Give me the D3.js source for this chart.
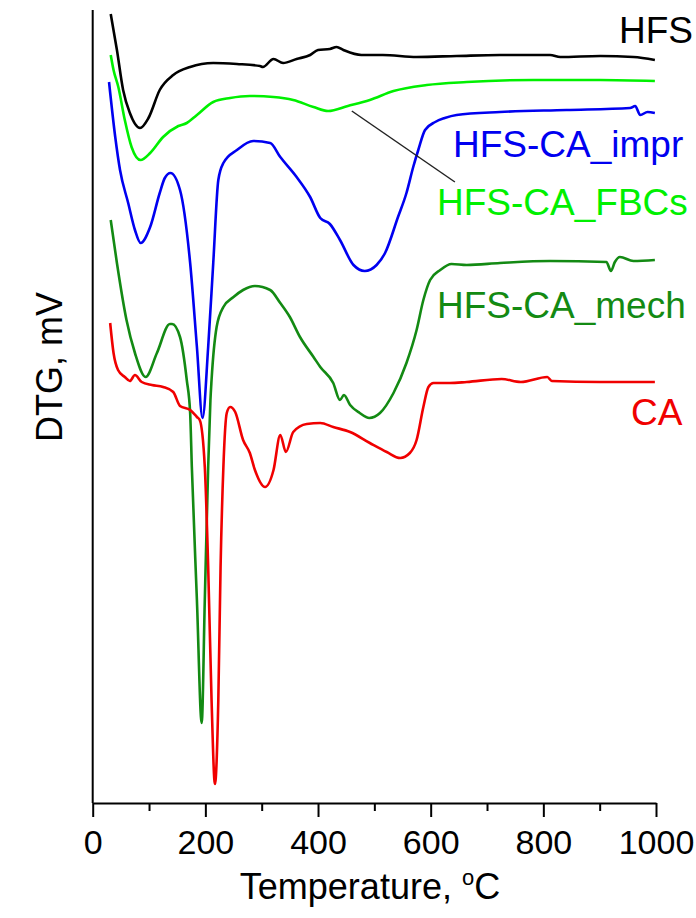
<!DOCTYPE html>
<html lang="en">
<head>
<meta charset="UTF-8">
<title>DTG curves</title>
<script src="https://d3js.org/d3.v7.min.js"></script>
<style>
    body { margin: 0; background: #fff; }
    svg { display: block; font-family: "Liberation Sans", Arial, sans-serif; }
    .axis path, .axis line { stroke: #000; stroke-width: 2; }
    .axis text { font-size: 34px; fill: #000; }
    .curve { fill: none; stroke-width: 2.6; stroke-linejoin: round; }
    .lbl { font-size: 37px; }
</style>
</head>
<body>
<svg id="chart"></svg>
<script>
    // temperature (C) and DTG (arbitrary units)
    const hfsT = [32, 43, 54, 66, 84, 99, 119, 143, 173, 214, 256, 297, 302, 321, 338, 362, 386, 400, 421, 433, 445, 477, 515, 575, 646, 723, 812, 830, 901, 960, 998];
    const hfsV = [789, 753, 713, 690, 675, 685, 713, 728, 736, 740, 739, 737, 736, 744, 740, 744, 748, 753, 754, 756, 753, 748, 748, 746, 747, 748, 748, 746, 747, 746, 743];

    const fbcT = [32, 37, 45.5, 57, 69, 85, 102, 125, 152, 167, 185, 214, 244, 279, 321, 356, 392, 418, 453, 492, 534, 593, 664, 782, 901, 998];
    const fbcV = [748, 733, 716, 683, 656, 643, 650, 666, 677, 680, 688, 701, 705, 707, 706, 703, 696, 692, 697, 703, 712, 718, 721, 723, 723, 722];

    const imprT = [29, 40, 48.5, 63, 75, 85, 102, 119, 128, 138, 155, 173, 185, 195, 205, 214, 223, 232, 256, 285, 315, 333, 362, 386, 404, 421, 439, 463, 483, 504, 519, 542, 557, 569, 578, 590, 608, 625, 646, 723, 841, 954, 963, 972, 985, 998];
    const imprV = [721, 666, 633, 600, 573, 560, 576, 610, 625, 630, 613, 540, 456, 385, 456, 540, 623, 640, 653, 662, 660, 646, 626, 606, 585, 579, 563, 538, 532, 538, 550, 586, 610, 636, 653, 673, 681, 685, 688, 691, 693, 695, 697, 688, 691, 690];

    const mechT = [32, 43, 60, 75, 94, 114, 137, 141, 155, 167, 173, 176, 185, 193.5, 199, 205, 209, 211, 220, 232, 250, 267, 288, 315, 333, 350, 368, 392, 404, 427, 439, 446, 457, 474, 491, 510, 534, 557, 575, 587, 599, 617, 637, 664, 723, 812, 912, 920, 927, 936, 960, 998];
    const mechV = [583, 540, 483, 450, 426, 450, 479, 479, 466, 423, 390, 336, 203, 80, 203, 336, 403, 423, 476, 496, 506, 513, 517, 513, 500, 486, 466, 446, 436, 420, 403, 408, 398, 390, 385, 390, 410, 440, 473, 503, 523, 533, 539, 538, 540, 542, 541, 532, 541, 546, 542, 543];

    const caT = [31, 37, 45, 57, 66, 75, 87, 105, 125, 143, 155, 173, 185, 190, 199, 205, 211, 217, 223, 227, 232, 238, 244, 253, 267, 279, 288, 306, 321, 333, 343, 356, 380, 404, 427, 457, 492, 522, 546, 563, 575, 587, 596, 605, 634, 664, 726, 760, 807, 815, 900, 998];
    const caV = [480, 450, 433, 426, 422, 428, 421, 418, 416, 411, 397, 393, 386, 383, 336, 236, 103, 19, 103, 236, 336, 390, 396, 391, 363, 350, 333, 316, 333, 368, 351, 371, 379, 380, 376, 371, 360, 351, 345, 350, 363, 396, 416, 420, 420, 421, 424, 421, 426, 422, 421, 421];

    const xTicks = [0, 200, 400, 600, 800, 1000];

    const series = [
        { name: "HFS", t: hfsT, v: hfsV, color: "#000000", lx: 619, ly: 43 },
        { name: "HFS-CA_FBCs", t: fbcT, v: fbcV, color: "#00f000", lx: 437, ly: 215 },
        { name: "HFS-CA_impr", t: imprT, v: imprV, color: "#0000f0", lx: 453, ly: 157 },
        { name: "HFS-CA_mech", t: mechT, v: mechV, color: "#138a13", lx: 437, ly: 318 },
        { name: "CA", t: caT, v: caV, color: "#f00000", lx: 631, ly: 425 }
    ];

    const width = 696, height = 918;
    const svg = d3.select("#chart").attr("width", width).attr("height", height);

    const x = d3.scaleLinear().domain([0, 1000]).range([92.7, 656]);
    const y = d3.scaleLinear().domain([0, 793]).range([803, 10]);

    // x axis with minor ticks
    const xAxis = svg.append("g")
        .attr("class", "axis")
        .attr("transform", `translate(0,${y(0)})`)
        .call(d3.axisBottom(x).tickValues(d3.range(0, 1001, 100)).tickSize(8).tickSizeOuter(0)
            .tickFormat(d => xTicks.includes(d) ? d : ""));
    xAxis.selectAll(".tick line").attr("y2", d => xTicks.includes(d) ? 14 : 8);
    xAxis.selectAll(".tick text").attr("y", 27).attr("dy", "0.71em");

    // plain left axis line
    svg.append("line")
        .attr("x1", x(0)).attr("x2", x(0))
        .attr("y1", y(793)).attr("y2", y(0))
        .attr("stroke", "#000").attr("stroke-width", 2);

    const line = d3.line()
        .x(d => x(d[0]))
        .y(d => y(d[1]))
        .curve(d3.curveMonotoneX);

    series.forEach(s => {
        svg.append("path")
            .attr("class", "curve")
            .attr("stroke", s.color)
            .attr("d", line(s.t.map((t, i) => [t, s.v[i]])));
        svg.append("text")
            .attr("class", "lbl")
            .attr("x", s.lx).attr("y", s.ly)
            .attr("fill", s.color)
            .text(s.name);
    });

    // pointer from the FBCs label to its curve
    svg.append("line")
        .attr("x1", x(460)).attr("y1", y(692))
        .attr("x2", x(643)).attr("y2", y(621))
        .attr("stroke", "#222").attr("stroke-width", 1.5);

    // axis titles
    const xt = svg.append("text")
        .attr("x", 370).attr("y", 899)
        .attr("text-anchor", "middle")
        .attr("font-size", 36);
    xt.append("tspan").text("Temperature, ");
    xt.append("tspan").attr("font-size", 22).attr("dy", -14).text("o");
    xt.append("tspan").attr("dy", 14).text("C");

    svg.append("text")
        .attr("transform", "translate(62,367) rotate(-90)")
        .attr("text-anchor", "middle")
        .attr("font-size", 36)
        .text("DTG, mV");
</script>
</body>
</html>
